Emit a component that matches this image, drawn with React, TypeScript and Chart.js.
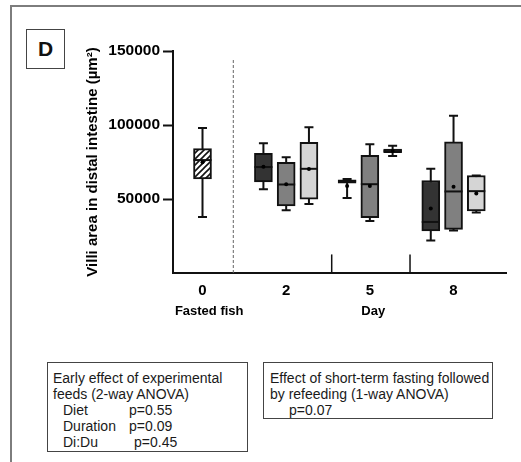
import React, { useEffect, useRef } from 'react';
import { Chart, registerables } from 'chart.js';

Chart.register(...registerables);

// ---- data ----
const dayLabels = ['0', '2', '5', '8'];
const groupLabels = ['Fasted fish', 'Day'];
const groupLabelAt = [0.08, 2.04];

// Fasted fish (day 0)
const fastedPos = [0];
const fastedMin = [37900];
const fastedQ1 = [63600];
const fastedMedian = [76300];
const fastedQ3 = [84000];
const fastedMax = [98000];
const fastedMean = [74800];

// Experimental feeds at days 2, 5, 8
const dietPos = [1, 2, 3];
const dietAMin = [56600, 50700, 22000];
const dietAQ1 = [61600, 60700, 28400];
const dietAMedian = [71600, 62000, 34500];
const dietAQ3 = [80900, 63000, 62500];
const dietAMax = [87600, 63500, 70400];
const dietAMean = [71800, 58700, 43600];

const dietBMin = [42400, 35100, 28800];
const dietBQ1 = [45300, 37400, 29500];
const dietBMedian = [59800, 60000, 55100];
const dietBQ3 = [74800, 79500, 88700];
const dietBMax = [78200, 87000, 106200];
const dietBMean = [60000, 58700, 58200];

const dietCMin = [46700, 79000, 40800];
const dietCQ1 = [49900, 81300, 41900];
const dietCMedian = [70400, 82400, 55300];
const dietCQ3 = [88300, 83800, 65900];
const dietCMax = [98500, 86000, 65900];
const dietCMean = [70200, 82400, 53700];

// separators between groups (x position, top value)
const dashedDividerAt = [0.368];
const dashedDividerTop = [144000];
const dividerAt = [1.544, 2.48];
const dividerTop = [12550, 12550];

const yTicks = [0, 50000, 100000, 150000];

export default function App() {
  const ref = useRef<HTMLCanvasElement | null>(null);

  useEffect(() => {
    const canvas = ref.current;
    if (!canvas) return;
    const ctx = canvas.getContext('2d') as CanvasRenderingContext2D;

    // hatch pattern for fasted fish box
    const pc = document.createElement('canvas');
    pc.width = 6;
    pc.height = 6;
    const p = pc.getContext('2d') as CanvasRenderingContext2D;
    p.fillStyle = '#ffffff';
    p.fillRect(0, 0, 6, 6);
    p.strokeStyle = '#111111';
    p.lineWidth = 1.6;
    p.beginPath();
    p.moveTo(-1, 7);
    p.lineTo(7, -1);
    p.moveTo(-1, 1);
    p.lineTo(1, -1);
    p.moveTo(5, 7);
    p.lineTo(7, 5);
    p.stroke();
    const hatch = ctx.createPattern(pc, 'repeat') as CanvasPattern;

    const dodge = 0.272;
    const series = [
      { pos: fastedPos, off: 0, min: fastedMin, q1: fastedQ1, med: fastedMedian, q3: fastedQ3, max: fastedMax, mean: fastedMean, fill: hatch as any },
      { pos: dietPos, off: -dodge, min: dietAMin, q1: dietAQ1, med: dietAMedian, q3: dietAQ3, max: dietAMax, mean: dietAMean, fill: '#333333' },
      { pos: dietPos, off: 0, min: dietBMin, q1: dietBQ1, med: dietBMedian, q3: dietBQ3, max: dietBMax, mean: dietBMean, fill: '#808080' },
      { pos: dietPos, off: dodge, min: dietCMin, q1: dietCQ1, med: dietCMedian, q3: dietCQ3, max: dietCMax, mean: dietCMean, fill: '#d5d5d5' },
    ];

    const datasets: any[] = [];
    series.forEach((s) => {
      datasets.push({
        type: 'bar',
        data: s.pos.map((x, i) => ({ x: x + s.off, y: [s.q1[i], s.q3[i]] })),
        backgroundColor: s.fill,
        borderColor: '#111111',
        borderWidth: 2,
        borderSkipped: false,
        barThickness: 18,
        grouped: false,
        order: 2,
        _box: s,
      });
    });
    series.forEach((s) => {
      datasets.push({
        type: 'line',
        showLine: false,
        data: s.pos.map((x, i) => ({ x: x + s.off, y: s.mean[i] })),
        pointRadius: 2,
        pointBorderWidth: 0,
        pointBackgroundColor: '#000000',
        order: 0,
      });
    });
    dashedDividerAt.forEach((d, i) => {
      datasets.push({
        type: 'line',
        data: [{ x: d, y: 0 }, { x: d, y: dashedDividerTop[i] }],
        borderColor: '#666666',
        borderWidth: 1,
        borderDash: [3, 2],
        pointRadius: 0,
        order: 3,
      });
    });
    dividerAt.forEach((d, i) => {
      datasets.push({
        type: 'line',
        data: [{ x: d, y: 0 }, { x: d, y: dividerTop[i] }],
        borderColor: '#111111',
        borderWidth: 1.5,
        pointRadius: 0,
        order: 3,
      });
    });

    const boxPlugin = {
      id: 'boxWhiskers',
      beforeDatasetsDraw(chart: any) {
        const c = chart.ctx;
        const ys = chart.scales.y;
        c.save();
        c.strokeStyle = '#111111';
        c.lineWidth = 2;
        chart.data.datasets.forEach((ds: any, di: number) => {
          if (!ds._box) return;
          const meta = chart.getDatasetMeta(di);
          const s = ds._box;
          meta.data.forEach((el: any, j: number) => {
            const x = el.x;
            const yTop = ys.getPixelForValue(s.max[j]);
            const yBot = ys.getPixelForValue(s.min[j]);
            c.beginPath();
            c.moveTo(x, yTop);
            c.lineTo(x, yBot);
            c.moveTo(x - 4.5, yTop);
            c.lineTo(x + 4.5, yTop);
            c.moveTo(x - 4.5, yBot);
            c.lineTo(x + 4.5, yBot);
            c.stroke();
          });
        });
        c.restore();
      },
      afterDatasetDraw(chart: any, args: any) {
        const ds = chart.data.datasets[args.index];
        if (!ds._box) return;
        const c = chart.ctx;
        const ys = chart.scales.y;
        const s = ds._box;
        c.save();
        c.strokeStyle = '#111111';
        c.lineWidth = 2;
        args.meta.data.forEach((el: any, j: number) => {
          const y = ys.getPixelForValue(s.med[j]);
          c.beginPath();
          c.moveTo(el.x - el.width / 2, y);
          c.lineTo(el.x + el.width / 2, y);
          c.stroke();
        });
        c.restore();
      },
    };

    Chart.defaults.font.family = "'Liberation Sans', Arial, sans-serif";
    Chart.defaults.color = '#000000';

    const xMin = -0.3526;
    const xMax = 3.627;

    const chart = new Chart(canvas, {
      type: 'bar',
      data: { datasets },
      plugins: [boxPlugin],
      options: {
        animation: false,
        responsive: false,
        events: [],
        layout: { padding: { left: 0, right: 15, top: 51, bottom: 0 } },
        plugins: { legend: { display: false }, tooltip: { enabled: false } },
        scales: {
          x: {
            type: 'linear',
            position: 'bottom',
            min: xMin,
            max: xMax,
            offset: false,
            weight: 0,
            afterBuildTicks: (s: any) => {
              s.ticks = dayLabels.map((_, i) => ({ value: i }));
            },
            afterFit: (s: any) => {
              s.height = 30;
            },
            ticks: {
              callback: (_v: any, i: number) => dayLabels[i],
              font: { size: 15, weight: 'bold' },
              padding: 9,
              maxRotation: 0,
              autoSkip: false,
              color: '#000',
            },
            grid: { display: true, drawOnChartArea: false, drawTicks: false, offset: false },
            border: { display: true, color: '#111111', width: 2 },
          },
          x2: {
            type: 'linear',
            position: 'bottom',
            axis: 'x',
            min: xMin,
            max: xMax,
            offset: false,
            weight: 1,
            afterBuildTicks: (s: any) => {
              s.ticks = groupLabelAt.map((v) => ({ value: v }));
            },
            afterFit: (s: any) => {
              s.height = 159;
            },
            ticks: {
              callback: (_v: any, i: number) => groupLabels[i],
              font: { size: 13, weight: 'bold' },
              padding: 1,
              maxRotation: 0,
              autoSkip: false,
              color: '#000',
            },
            grid: { display: false, drawTicks: false },
            border: { display: false },
          },
          y: {
            type: 'linear',
            min: 0,
            max: 150000,
            afterBuildTicks: (s: any) => {
              s.ticks = yTicks.map((v) => ({ value: v }));
            },
            afterFit: (s: any) => {
              s.width = 173;
            },
            ticks: {
              callback: (v: any) => (v === 0 ? '' : String(v)),
              font: { size: 15.5, weight: 'bold' },
              padding: 3,
              color: '#000',
            },
            grid: {
              drawOnChartArea: false,
              drawTicks: true,
              tickLength: 10,
              tickWidth: 2,
              tickColor: (c: any) => (c.tick && c.tick.value === 0 ? 'rgba(0,0,0,0)' : '#111111'),
            },
            border: { display: true, color: '#111111', width: 2 },
            title: {
              display: true,
              text: 'Villi area in distal intestine (µm²)',
              font: { size: 15, weight: 'bold' },
              color: '#000',
              padding: { top: 84, bottom: 0 },
            },
          },
        },
      } as any,
    });

    return () => chart.destroy();
  }, []);

  const boxText: React.CSSProperties = {
    position: 'absolute',
    boxSizing: 'border-box',
    border: '1px solid #444',
    fontFamily: "'Liberation Sans', Arial, sans-serif",
    fontSize: 14,
    lineHeight: '16px',
    color: '#1a1a1a',
    background: '#fff',
    whiteSpace: 'nowrap',
  };

  return (
    <div style={{ position: 'absolute', left: 0, top: 0, width: 521, height: 462, overflow: 'hidden', background: '#fff' }}>
      <div style={{ position: 'absolute', left: 10, top: 5, width: 620, height: 620, border: '2px solid #7d7d7d', boxSizing: 'border-box' }} />
      <canvas ref={ref} width={521} height={462} style={{ position: 'absolute', left: 0, top: 0, width: 521, height: 462 }} />
      <div
        style={{
          position: 'absolute',
          left: 26,
          top: 29,
          width: 39,
          height: 40,
          boxSizing: 'border-box',
          border: '1px solid #444',
          display: 'flex',
          alignItems: 'center',
          justifyContent: 'center',
          fontFamily: "'Liberation Sans', Arial, sans-serif",
          fontWeight: 'bold',
          fontSize: 21,
          color: '#111',
          background: '#fff',
        }}
      >
        D
      </div>
      <div style={{ ...boxText, left: 47, top: 362, width: 201, height: 90, paddingTop: 7, paddingLeft: 5 }}>
        <div>Early effect of experimental</div>
        <div>feeds (2-way ANOVA)</div>
        <div style={{ marginLeft: 10 }}>
          <span style={{ display: 'inline-block', width: 66 }}>Diet</span>p=0.55
        </div>
        <div style={{ marginLeft: 10 }}>
          <span style={{ display: 'inline-block', width: 66 }}>Duration</span>p=0.09
        </div>
        <div style={{ marginLeft: 10 }}>
          <span style={{ display: 'inline-block', width: 71 }}>Di:Du</span>p=0.45
        </div>
      </div>
      <div style={{ ...boxText, left: 263, top: 362, width: 230, height: 57, paddingTop: 7, paddingLeft: 6 }}>
        <div>Effect of short-term fasting followed</div>
        <div>by refeeding (1-way ANOVA)</div>
        <div style={{ marginLeft: 19 }}>p=0.07</div>
      </div>
    </div>
  );
}
